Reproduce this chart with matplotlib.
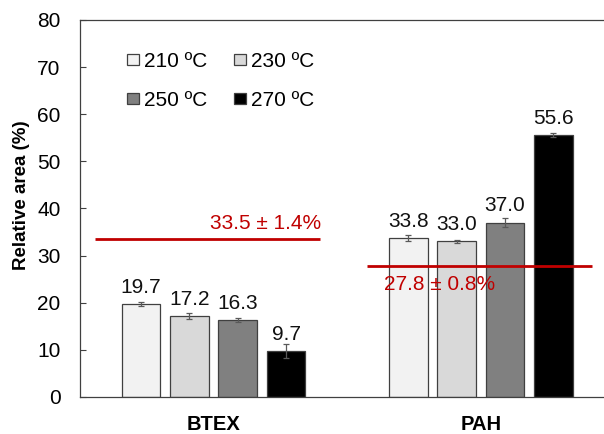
import matplotlib
matplotlib.use("Agg")
import matplotlib.pyplot as plt
import numpy as np

plt.rcParams['font.family'] = ['Liberation Sans', 'DejaVu Sans']

# data
groups = ['BTEX', 'PAH']
temps = ['210 ºC', '230 ºC', '250 ºC', '270 ºC']
btex = [19.7, 17.2, 16.3, 9.7]
btex_err = [0.4, 0.55, 0.4, 1.45]
pah = [33.8, 33.0, 37.0, 55.6]
pah_err = [0.65, 0.25, 0.9, 0.4]
ref_means = [33.5, 27.8]
ref_labels = ['33.5 ± 1.4%', '27.8 ± 0.8%']

colors = ['#f2f2f2', '#d9d9d9', '#808080', '#000000']
red = '#c00000'

fig = plt.figure(figsize=(6.04, 4.34), dpi=100)
ax = fig.add_axes([0.1325, 0.0853, 0.8846, 0.8687])

x = np.arange(len(groups))
width = 0.1445
step = 0.1808
values = np.array([btex, pah])
errors = np.array([btex_err, pah_err])

bars = []
for i, t in enumerate(temps):
    pos = x + (i - 1.5) * step
    b = ax.bar(pos, values[:, i], width, color=colors[i], edgecolor='#404040',
               linewidth=0.9, label=t, zorder=2)
    bars.append(b)
    ax.errorbar(pos, values[:, i], yerr=errors[:, i], fmt='none',
                ecolor='#595959', elinewidth=0.9, capsize=2.5, capthick=0.9,
                zorder=3)
    for px, v in zip(pos, values[:, i]):
        ax.annotate('%.1f' % v, (px, v), xytext=(0, 8), textcoords='offset points',
                    ha='center', va='baseline', fontsize=15, color='#111111')

# reference lines (mean of the feedstock)
ax.hlines(ref_means[0], -0.4435, 0.398, color=red, lw=2, zorder=4)
ax.annotate(ref_labels[0], (0.398, ref_means[0]), xytext=(1, 7),
            textcoords='offset points', ha='right', va='baseline',
            fontsize=15, color=red)
ax.hlines(ref_means[1], 0.5745, 1.4166, color=red, lw=2, zorder=4)
ax.text(0.638, 22.7, ref_labels[1], ha='left', va='baseline',
        fontsize=15, color=red, zorder=5)

ax.set_xlim(-0.5, 1.5)
ax.set_ylim(0, 80)
ax.set_yticks(np.arange(0, 81, 10))
ax.set_xticks(x)
ax.set_xticklabels(groups, fontweight='bold', fontsize=14.5)
ax.tick_params(axis='x', length=0, pad=13)
ax.tick_params(axis='y', direction='in', length=4.3, width=0.8,
               labelsize=15, pad=14, color='#404040')

for s in ['left', 'top', 'bottom']:
    ax.spines[s].set_color('#404040')
    ax.spines[s].set_linewidth(0.9)
ax.spines['right'].set_visible(False)

ax.set_ylabel('Relative area (%)', fontsize=13.5, fontweight='bold')
ax.yaxis.set_label_coords(-0.0936, 0.536)

# legend filled row by row: 210 230 / 250 270
order = [0, 2, 1, 3]
ax.legend([bars[k] for k in order], [temps[k] for k in order],
          loc='upper left', bbox_to_anchor=(0.088, 0.915), ncol=2,
          frameon=False, fontsize=15, handlelength=0.55, handleheight=0.45,
          handletextpad=0.25, columnspacing=1.3, labelspacing=0.95,
          borderpad=0, borderaxespad=0)

fig.savefig('out.png', dpi=100)
